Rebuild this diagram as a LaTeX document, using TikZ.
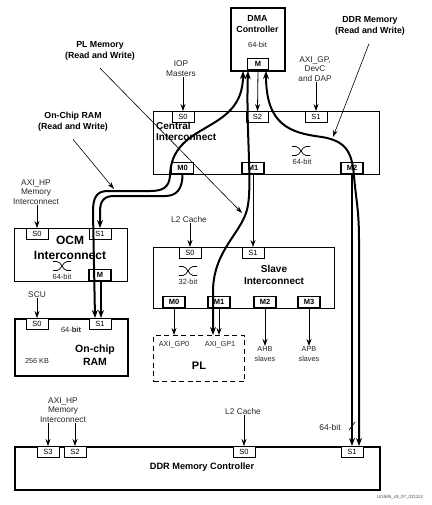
\documentclass[tikz,border=0pt]{standalone}
\usepackage{fontspec}
\setmainfont{Liberation Sans}
\usetikzlibrary{arrows.meta,calc}
\tikzset{
  xbar/.pic={
    \draw[line width=0.7pt] (-9,-4.5) -- (-5,-4.5) .. controls (-1,-4.5) and (1,4.5) .. (5,4.5) -- (9,4.5);
    \draw[line width=0.7pt] (-9,4.5) -- (-5,4.5) .. controls (-1,4.5) and (1,-4.5) .. (5,-4.5) -- (9,-4.5);
  }
}
\begin{document}
\begin{tikzpicture}[x=1pt,y=-1pt,
  box/.style={draw, line width=0.7pt, inner sep=0pt, anchor=north west},
  tbox/.style={draw, line width=1.6pt, inner sep=0pt, anchor=north west},
  port/.style={draw, fill=white, line width=0.6pt, minimum width=22pt, minimum height=11pt, inner sep=0pt, font=\fontsize{7.5}{8}\selectfont},
  mport/.style={port, line width=1.1pt, font=\fontsize{7.5}{8}\selectfont\bfseries},
  lbl/.style={align=center, inner sep=0pt, font=\fontsize{8.3}{9.8}\selectfont, text=black!85},
  slbl/.style={align=center, inner sep=0pt, font=\fontsize{7.3}{10.5}\selectfont, text=black!85},
  blbl/.style={align=center, inner sep=0pt, font=\fontsize{8.8}{11}\selectfont\bfseries},
  arr/.style={-{Stealth[length=7pt,width=5pt]}, line width=0.8pt},
  ptr/.style={-{Stealth[length=7pt,width=4.5pt]}, line width=0.6pt},
  fat/.style={line width=2pt, {Stealth[length=8pt,width=6pt]}-{Stealth[length=8pt,width=6pt]}},
  fatend/.style={line width=2pt, -{Stealth[length=8pt,width=6pt]}},
]
\fill[white] (0,0) rectangle (431,505);
\useasboundingbox (0,0) rectangle (431,505);

% ---------- DMA controller ----------
\node[tbox, minimum width=54pt, minimum height=63pt] (dma) at (230,7) {};
\node[blbl, font=\fontsize{8.8}{10.5}\selectfont\bfseries] (dmat) at (257.5,24) {DMA\\Controller};
\node[lbl, font=\fontsize{7.5}{9}\selectfont] (dmab) at (257.5,45) {64-bit};
\node[mport, anchor=south, minimum width=21pt] (dmaM) at (258,70) {M};

% ---------- top labels ----------
\node[blbl] (ddrl) at (370,26) {DDR Memory\\(Read and Write)};
\node[blbl] (pll) at (100,50.5) {PL Memory\\(Read and Write)};
\node[blbl] (ocml) at (73,121.5) {On-Chip RAM\\(Read and Write)};
\node[lbl] (iop) at (181,68.5) {IOP\\Masters};
\node[lbl] (axigp) at (315,69) {AXI\_GP,\\DevC\\and DAP};

% ---------- central interconnect ----------
\node[box, minimum width=226pt, minimum height=63pt] (ci) at (153,111) {};
\node[port, anchor=north] (ciS0) at (183,111) {S0};
\node[port, anchor=north] (ciS2) at (257.5,111) {S2};
\node[port, anchor=north] (ciS1) at (316,111) {S1};
\node[mport, anchor=south] (ciM0) at (182.5,174) {M0};
\node[mport, anchor=south] (ciM1) at (253,174) {M1};
\node[mport, anchor=south] (ciM2) at (352,174) {M2};
\node[align=left, inner sep=0pt, anchor=north west, font=\fontsize{10}{11.5}\selectfont\bfseries] (cit) at (156,122) {Central\\Interconnect};
\pic (cix) at (301,151) {xbar};
\node[lbl, font=\fontsize{7.5}{8}\selectfont] (cib) at (302,162) {64-bit};

% ---------- OCM interconnect ----------
\node[box, minimum width=113pt, minimum height=53pt] (ocm) at (14,228) {};
\node[port, anchor=north] (ocmS0) at (37,228) {S0};
\node[port, anchor=north] (ocmS1) at (100,228) {S1};
\node[mport, anchor=south] (ocmM) at (100,281) {M};
\node[align=center, inner sep=0pt, font=\fontsize{12}{15}\selectfont\bfseries] (ocmt) at (70,247.5) {OCM\\Interconnect};
\pic (ocmx) at (62,266) {xbar};
\node[lbl, font=\fontsize{7.5}{8}\selectfont] (ocmb) at (62,277) {64-bit};
\node[lbl] (hp1) at (36,192) {AXI\_HP\\Memory\\Interconnect};

% ---------- On-chip RAM ----------
\node[tbox, minimum width=113pt, minimum height=57pt] (ram) at (14,318) {};
\node[port, anchor=north] (ramS0) at (37,318) {S0};
\node[port, anchor=north] (ramS1) at (100,318) {S1};
\node[lbl, font=\fontsize{7.5}{8}\selectfont] (ramb) at (71,330) {64-\textbf{bit}};
\node[align=center, inner sep=0pt, font=\fontsize{10.5}{13}\selectfont\bfseries] (ramt) at (95,355.5) {On-chip\\RAM};
\node[lbl, font=\fontsize{7.3}{8}\selectfont] (ramk) at (37,361) {256 KB};
\node[lbl] (scu) at (37,295) {SCU};

% ---------- Slave interconnect ----------
\node[box, minimum width=181pt, minimum height=61pt] (sl) at (153,247) {};
\node[port, anchor=north] (slS0) at (190,247) {S0};
\node[port, anchor=north] (slS1) at (253,247) {S1};
\node[mport, anchor=south] (slM0) at (174,308) {M0};
\node[mport, anchor=south] (slM1) at (219,308) {M1};
\node[mport, anchor=south] (slM2) at (265,308) {M2};
\node[mport, anchor=south] (slM3) at (309,308) {M3};
\node[align=center, inner sep=0pt, font=\fontsize{10}{12}\selectfont\bfseries] (slt) at (274,275) {Slave\\Interconnect};
\pic (slx) at (188,271) {xbar};
\node[lbl, font=\fontsize{7.5}{8}\selectfont] (slb) at (188,282) {32-bit};
\node[lbl] (l2a) at (189,220) {L2 Cache};

% ---------- PL ----------
\node[draw, line width=1.3pt, dash pattern=on 5pt off 3.5pt, minimum width=91pt, minimum height=46pt, inner sep=0pt, anchor=north west] (pl) at (153,335) {};
\node[lbl, font=\fontsize{7.3}{8}\selectfont] (gp0) at (174,345) {AXI\_GP0};
\node[lbl, font=\fontsize{7.3}{8}\selectfont] (gp1) at (220,345) {AXI\_GP1};
\node[inner sep=0pt, font=\fontsize{11}{12}\selectfont\bfseries] (plt) at (199,366) {PL};
\node[slbl] (ahb) at (265,354) {AHB\\slaves};
\node[slbl] (apb) at (309,354) {APB\\slaves};

% ---------- DDR memory controller ----------
\node[tbox, minimum width=365pt, minimum height=43pt] (ddr) at (14,446) {};
\node[port, anchor=north] (ddrS3) at (48,446) {S3};
\node[port, anchor=north] (ddrS2) at (75,446) {S2};
\node[port, anchor=north] (ddrS0) at (244,446) {S0};
\node[port, anchor=north] (ddrS1) at (352,446) {S1};
\node[inner sep=0pt, font=\fontsize{9.2}{11}\selectfont\bfseries] (ddrt) at (202,467) {DDR Memory Controller};
\node[lbl] (hp2) at (63,410) {AXI\_HP\\Memory\\Interconnect};
\node[lbl] (l2b) at (243,412) {L2 Cache};
\node[lbl, font=\fontsize{8.5}{9}\selectfont] (w64) at (330,427) {64-bit};
\node[inner sep=0pt, font=\fontsize{4.5}{5}\selectfont, text=black!70] (ug) at (400,497) {UG585\_c9\_07\_021113};

% ---------- thin connectors ----------
\draw[arr] (iop.south -| ciS0.north) -- (ciS0.north);
\draw[arr] (axigp.south -| ciS1.north) -- (ciS1.north);
\draw[arr] (dmaM.south) -- (ciS2.north);
\draw[arr] (ciM1.south) -- (slS1.north);
\draw[arr] (l2a.south -| slS0.north) -- (slS0.north);
\draw[arr] (slM0.south) -- (slM0.south |- pl.north);
\draw[arr] (slM1.south) -- (slM1.south |- pl.north);
\draw[arr] (slM2.south) -- (ahb.north);
\draw[arr] (slM3.south) -- (apb.north);
\draw[arr] (hp1.south -| ocmS0.north) -- (ocmS0.north);
\draw[arr] (scu.south -| ramS0.north) -- (ramS0.north);
\draw[arr] (hp2.south -| ddrS3.north) -- (ddrS3.north);
\draw[arr] (hp2.south -| ddrS2.north) -- (ddrS2.north);
\draw[arr] (l2b.south -| ddrS0.north) -- (ddrS0.north);
\draw[line width=1.2pt, -{Stealth[length=8pt,width=6pt]}] (ciM2.south) -- (ddrS1.north);
\draw[line width=1.5pt, -{Stealth[length=8pt,width=6pt]}] ($(ocmM.south)+(1,0)$) -- ($(ramS1.north)+(1,0)$);
\draw[line width=0.7pt] (349,430) -- (355,422);

% ---------- thick DMA data paths ----------
\coordinate (d1) at (243,71);
\coordinate (d2) at (248,71);
\coordinate (d3) at (266,71);
\draw[fat] (d1) .. controls (243,135) and (171,120) .. (170,176) .. controls (169,188) and (162,191) .. (150,191) -- (108,191) .. controls (96,191) and (93,198) .. (93,212) -- ($(ramS1.north)+(-5,0)$);
\draw[fatend] (ciM0.south) .. controls (182.5,190) and (176,196) .. (165,196) -- (114,196) .. controls (103,196) and (100,202) .. (100,212) -- (ocmS1.north);
\draw[fat] (d2) .. controls (246,130) and (252,180) .. (248,205) .. controls (244,232) and (214,248) .. (213,290) -- (213,335);
\draw[fat] (d3) .. controls (266,125) and (290,133) .. (322,137) .. controls (346,141) and (352,152) .. (354,176) .. controls (356,200) and (359,210) .. (359,240) -- ($(ddrS1.north)+(7,0)$);

% ---------- pointer lines ----------
\draw[ptr] ($(pll.south)+(0,8)$) -- (242,213);
\draw[ptr] ($(ocml.south)+(0,8)$) -- (114,189);
\draw[ptr] ($(ddrl.south)+(-1,8)$) -- (333,137);
\end{tikzpicture}
\end{document}
